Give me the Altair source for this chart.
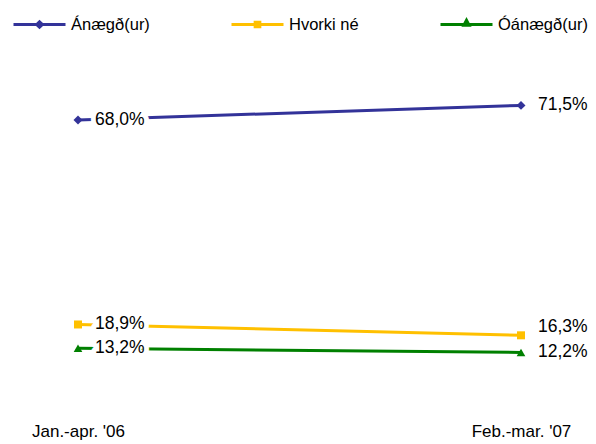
import altair as alt
import pandas as pd

periods = ["Jan.-apr. '06", "Feb.-mar. '07"]
series_names = ["Ánægð(ur)", "Hvorki né", "Óánægð(ur)"]
anaegd = [68.0, 71.5]
hvorki = [18.9, 16.3]
oanaegd = [13.2, 12.2]
colors = ["#333399", "#FFC000", "#008000"]
shapes = ["diamond", "square", "triangle-up"]
marker_sizes = [80, 64, 75]
legend_paths = [
    "M-1,0L1,0M-0.11,0L0,-0.1L0.11,0L0,0.1Z",
    "M-1,0L1,0M-0.09,-0.09L0.09,-0.09L0.09,0.09L-0.09,0.09Z",
    "M-1,0L1,0M-0.1,0.03L0,-0.16L0.1,0.03Z",
]
legend_x = [4, 222, 431]

all_values = [anaegd, hvorki, oanaegd]
rows = []
for s, vals in zip(series_names, all_values):
    for i, (p, v) in enumerate(zip(periods, vals)):
        rows.append({"series": s, "period": p, "pi": i, "value": v})
df = pd.DataFrame(rows)

FONT = "Liberation Sans"
x_enc = alt.X("period:O", sort=periods,
              scale=alt.Scale(type="point", domain=periods, range=[70, 513], padding=0),
              axis=alt.Axis(title=None, domain=False, ticks=False, tickSize=0, grid=False,
                            labelAngle=0, labelFont=FONT, labelFontSize=17,
                            labelColor="black", labelPadding=15, labelBaseline="top"))
y_enc = alt.Y("value:Q", scale=alt.Scale(domain=[0, 80], range=[395.2, 62]), axis=None)

series_layers = []
for s, col, shp, msz, path, lx in zip(series_names, colors, shapes, marker_sizes,
                                      legend_paths, legend_x):
    base = alt.Chart(df[df.series == s]).encode(x=x_enc, y=y_enc)
    line = base.mark_line(strokeWidth=3, color=col)
    pts = base.mark_point(filled=True, shape=shp, size=msz, opacity=1).encode(
        color=alt.Color("series:N", scale=alt.Scale(domain=[s], range=[col]),
                        legend=alt.Legend(title=None, orient="none", legendX=lx, legendY=-11,
                                          symbolType=path, symbolSize=52 * 52,
                                          symbolStrokeColor=col, symbolStrokeWidth=3,
                                          symbolFillColor=col, symbolOpacity=1,
                                          labelFont=FONT, labelFontSize=16.5, labelColor="black",
                                          labelOffset=4, padding=0))
    )
    series_layers.append(alt.layer(line, pts))

label_expr = "replace(format(datum.value, '.1f'), '.', ',') + '%'"
shift_test = "datum.series == 'Hvorki né' && datum.pi == 1"
text_base = alt.Chart(df).transform_calculate(label=label_expr).encode(
    x=x_enc, y=y_enc, text="label:N",
)
txt_kw = dict(align="left", baseline="middle", dx=17, font=FONT, fontSize=17.5)
halo = text_base.mark_text(stroke="white", strokeWidth=10, fill="white", strokeJoin="round",
                           **txt_kw).transform_filter("!(" + shift_test + ")")
labels = text_base.mark_text(color="black", **txt_kw).transform_filter("!(" + shift_test + ")")
labels_up = text_base.mark_text(color="black", dy=-8, **txt_kw).transform_filter(shift_test)

chart = alt.layer(series_layers[0], series_layers[1], series_layers[2],
                  halo, labels, labels_up).resolve_scale(
    color="independent"
).properties(
    width=580, height=400,
    autosize=alt.AutoSizeParams(type="none"),
    padding={"left": 0, "top": 0, "right": 0, "bottom": 36},
    background="white",
).configure_view(stroke=None)

chart.save("out.html", embed_options={"renderer": "svg", "actions": False})
